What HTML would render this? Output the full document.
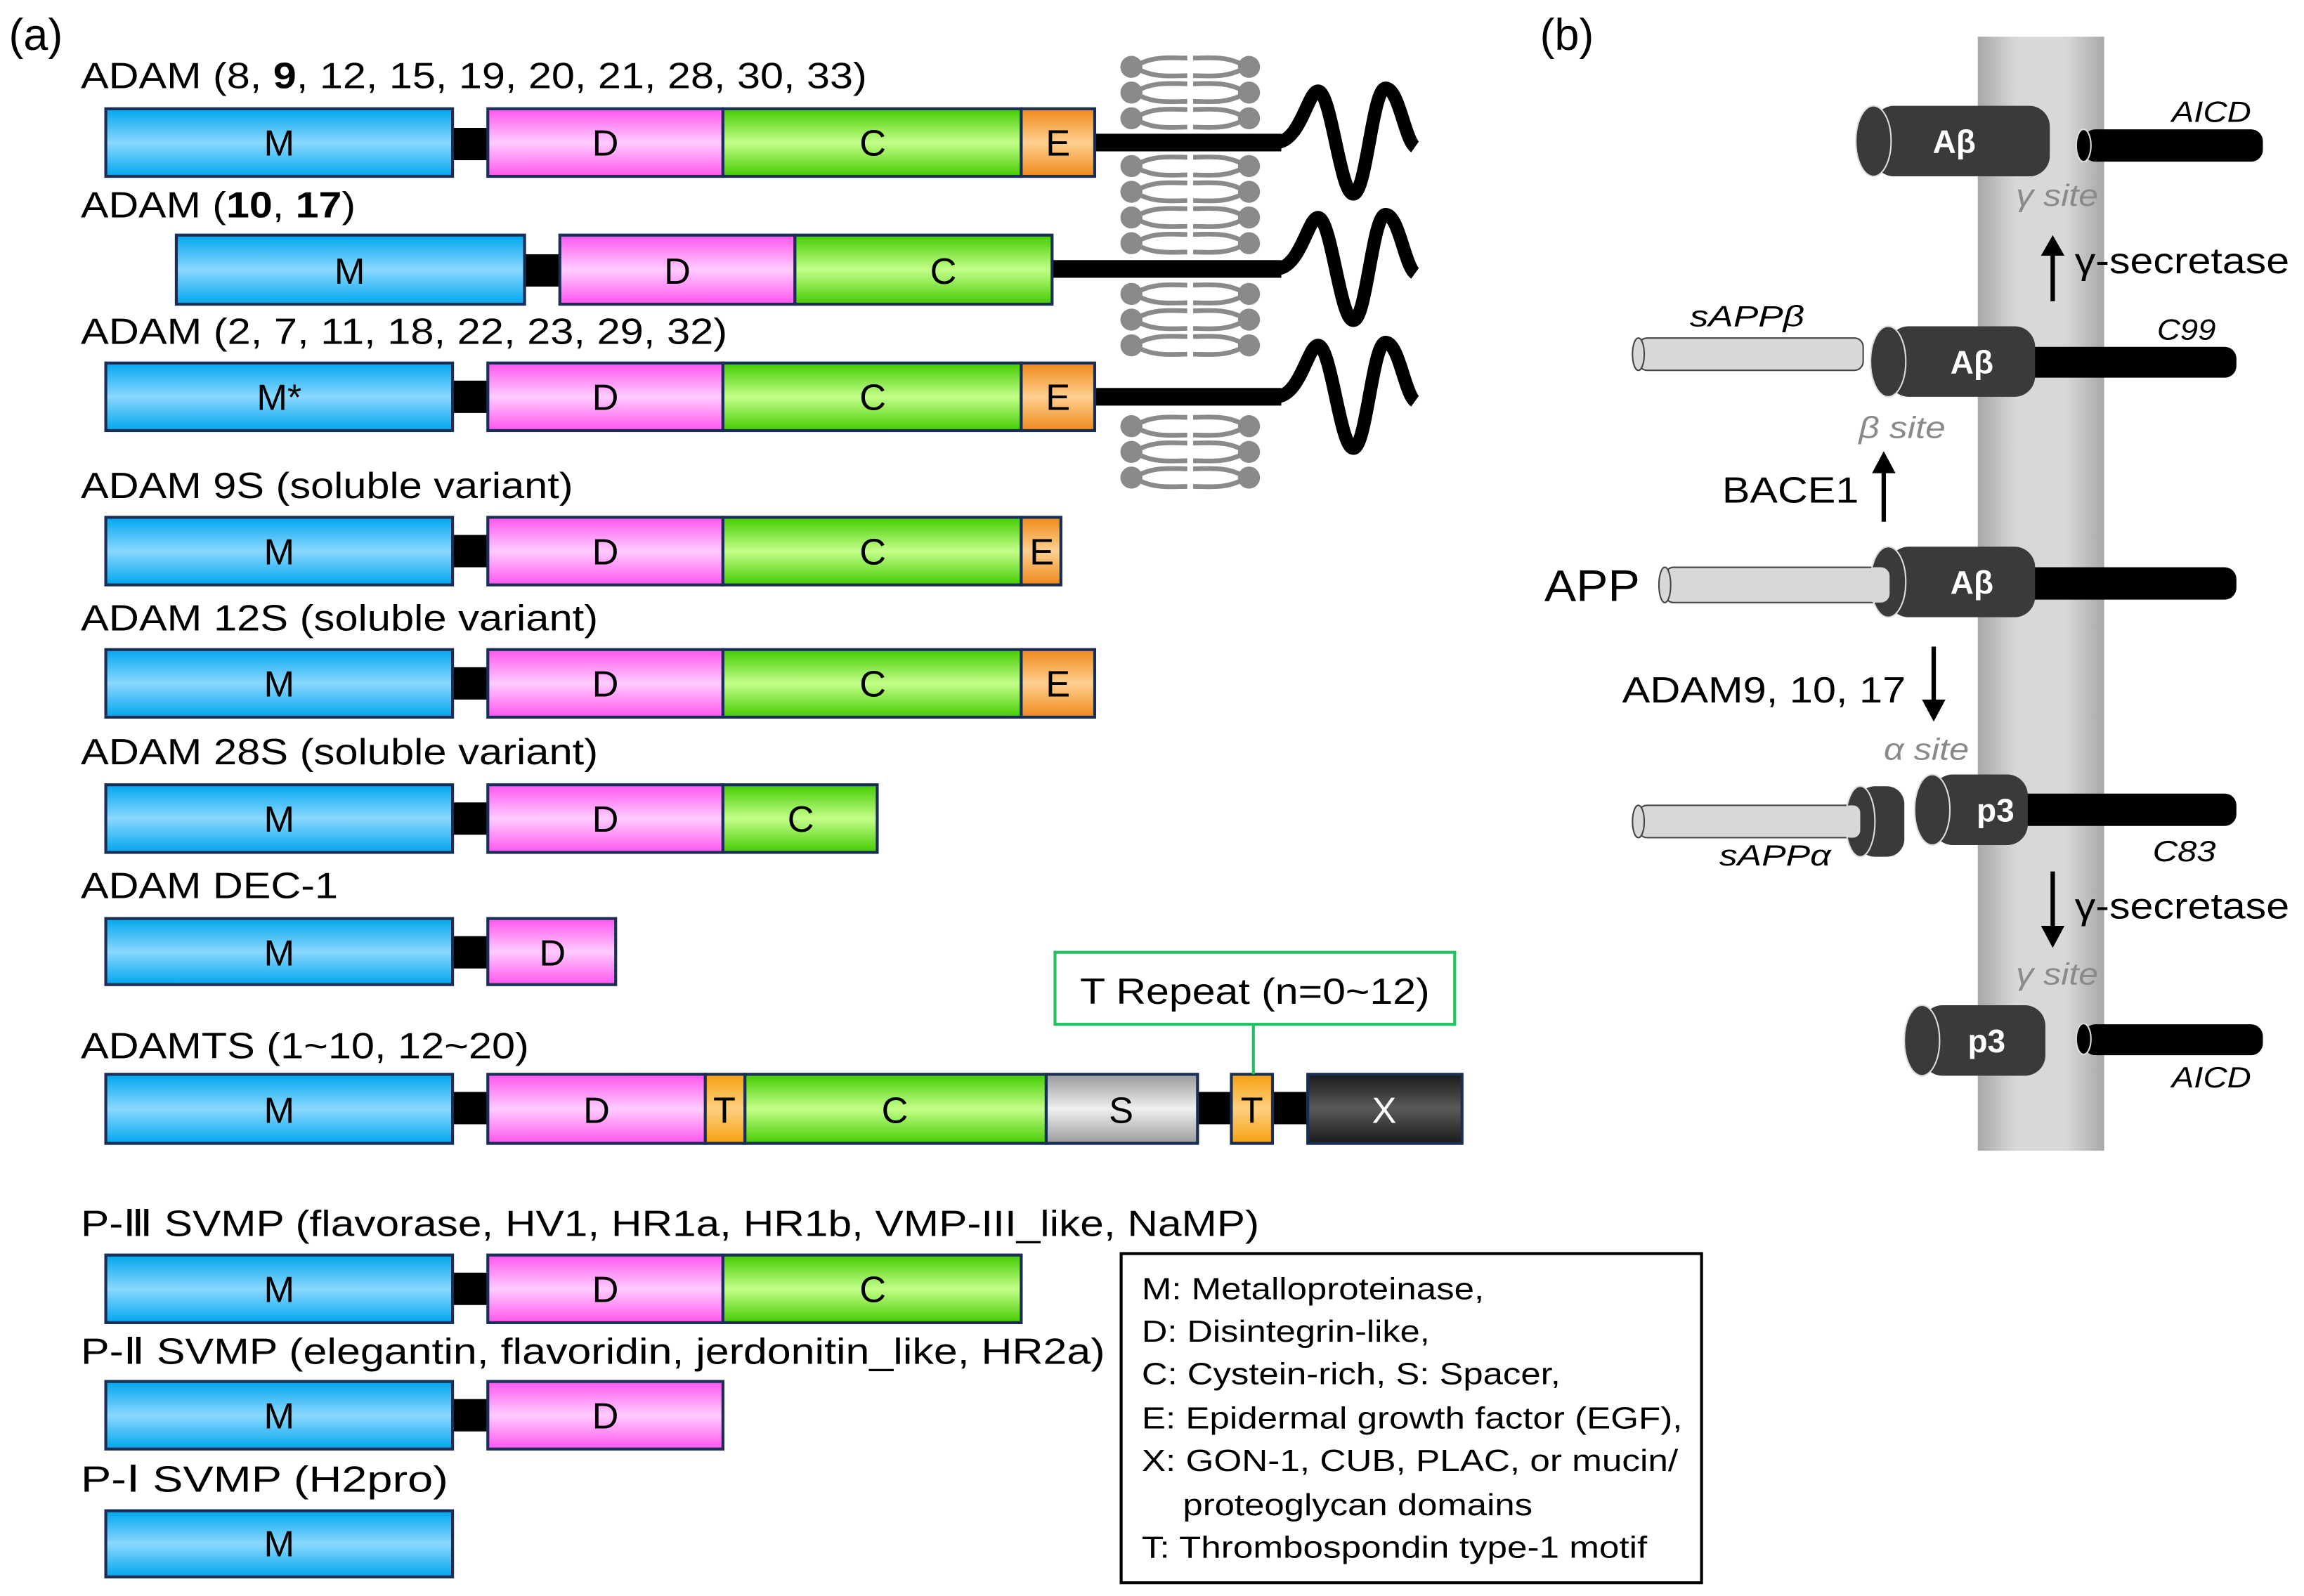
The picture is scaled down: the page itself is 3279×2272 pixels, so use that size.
<!DOCTYPE html>
<html><head><meta charset="utf-8"><style>
html,body{margin:0;padding:0;background:#fff;}
svg{display:block;}
text{font-family:"Liberation Sans",sans-serif;}
</style></head><body>
<svg width="3279" height="2272" viewBox="0 0 1568 1086" preserveAspectRatio="none" xmlns="http://www.w3.org/2000/svg">
<defs>
<linearGradient id="gM" x1="0" y1="0" x2="0" y2="1"><stop offset="0" stop-color="#00a6ee"/><stop offset="0.5" stop-color="#8ad8ff"/><stop offset="1" stop-color="#00a6ee"/></linearGradient>
<linearGradient id="gD" x1="0" y1="0" x2="0" y2="1"><stop offset="0" stop-color="#ff55ee"/><stop offset="0.5" stop-color="#ffccff"/><stop offset="1" stop-color="#ff55ee"/></linearGradient>
<linearGradient id="gC" x1="0" y1="0" x2="0" y2="1"><stop offset="0" stop-color="#44cc00"/><stop offset="0.5" stop-color="#c4ff8a"/><stop offset="1" stop-color="#44cc00"/></linearGradient>
<linearGradient id="gE" x1="0" y1="0" x2="0" y2="1"><stop offset="0" stop-color="#ee8a1a"/><stop offset="0.5" stop-color="#ffd090"/><stop offset="1" stop-color="#ee8a1a"/></linearGradient>
<linearGradient id="gT" x1="0" y1="0" x2="0" y2="1"><stop offset="0" stop-color="#f5a010"/><stop offset="0.5" stop-color="#ffd080"/><stop offset="1" stop-color="#f5a010"/></linearGradient>
<linearGradient id="gS" x1="0" y1="0" x2="0" y2="1"><stop offset="0" stop-color="#9a9a9a"/><stop offset="0.5" stop-color="#f0f0f0"/><stop offset="1" stop-color="#9a9a9a"/></linearGradient>
<linearGradient id="gX" x1="0" y1="0" x2="0" y2="1"><stop offset="0" stop-color="#1a1a1a"/><stop offset="0.5" stop-color="#5a5a5a"/><stop offset="1" stop-color="#1a1a1a"/></linearGradient>
<linearGradient id="gMem" x1="0" y1="0" x2="1" y2="0"><stop offset="0" stop-color="#a8a8a8"/><stop offset="0.3" stop-color="#d8d8d8"/><stop offset="0.7" stop-color="#d8d8d8"/><stop offset="1" stop-color="#a8a8a8"/></linearGradient>
<g id="lip">
<path d="M772 0 C784 -8 798 -6 808 -6 M772 0 C784 8 798 6 808 6 M848 0 C836 -8 822 -6 812 -6 M848 0 C836 8 822 6 812 6" stroke="#8a8a8a" stroke-width="3.2" fill="none"/>
<circle cx="770" cy="0" r="7.5" fill="#8a8a8a"/><circle cx="850" cy="0" r="7.5" fill="#8a8a8a"/>
</g>
</defs>
<rect width="1568" height="1086" fill="#fff"/>

<!-- lipid membrane -->
<g>
<use href="#lip" y="45.5"/><use href="#lip" y="63"/><use href="#lip" y="80.5"/>
<use href="#lip" y="113"/><use href="#lip" y="130.5"/><use href="#lip" y="148"/><use href="#lip" y="165.5"/>
<use href="#lip" y="200"/><use href="#lip" y="217.5"/><use href="#lip" y="235"/>
<use href="#lip" y="290"/><use href="#lip" y="307.5"/><use href="#lip" y="325"/>
</g>

<g font-size="25" fill="#000" lengthAdjust="spacingAndGlyphs">
<text x="6" y="34" font-size="30">(a)</text>
<text x="55" y="60" textLength="535" lengthAdjust="spacingAndGlyphs">ADAM (8, <tspan font-weight="bold">9</tspan>, 12, 15, 19, 20, 21, 28, 30, 33)</text>
<text x="55" y="148" textLength="187" lengthAdjust="spacingAndGlyphs">ADAM (<tspan font-weight="bold">10</tspan>, <tspan font-weight="bold">17</tspan>)</text>
<text x="55" y="234" textLength="440" lengthAdjust="spacingAndGlyphs">ADAM (2, 7, 11, 18, 22, 23, 29, 32)</text>
<text x="55" y="339" textLength="335" lengthAdjust="spacingAndGlyphs">ADAM 9S (soluble variant)</text>
<text x="55" y="429" textLength="352" lengthAdjust="spacingAndGlyphs">ADAM 12S (soluble variant)</text>
<text x="55" y="520" textLength="352" lengthAdjust="spacingAndGlyphs">ADAM 28S (soluble variant)</text>
<text x="55" y="611" textLength="175" lengthAdjust="spacingAndGlyphs">ADAM DEC-1</text>
<text x="55" y="720" textLength="305" lengthAdjust="spacingAndGlyphs">ADAMTS (1~10, 12~20)</text>
<text x="55" y="841" textLength="802" lengthAdjust="spacingAndGlyphs">P-Ⅲ SVMP (flavorase, HV1, HR1a, HR1b, VMP-III_like, NaMP)</text>
<text x="55" y="928" textLength="697" lengthAdjust="spacingAndGlyphs">P-Ⅱ SVMP (elegantin, flavoridin, jerdonitin_like, HR2a)</text>
<text x="55" y="1015" textLength="250" lengthAdjust="spacingAndGlyphs">P-Ⅰ SVMP (H2pro)</text>
</g>

<g stroke="#1a2e55" stroke-width="2">
<!-- row1 -->
<rect x="308" y="87" width="24" height="22" fill="#000" stroke="none"/>
<rect x="745" y="91" width="127" height="12" fill="#000" stroke="none"/>
<rect x="72" y="74" width="236" height="46" fill="url(#gM)"/>
<rect x="332" y="74" width="160" height="46" fill="url(#gD)"/>
<rect x="492" y="74" width="203" height="46" fill="url(#gC)"/>
<rect x="695" y="74" width="50" height="46" fill="url(#gE)"/>
<!-- row2 -->
<rect x="357" y="173" width="24" height="22" fill="#000" stroke="none"/>
<rect x="716" y="177" width="156" height="12" fill="#000" stroke="none"/>
<rect x="120" y="160" width="237" height="47" fill="url(#gM)"/>
<rect x="381" y="160" width="160" height="47" fill="url(#gD)"/>
<rect x="541" y="160" width="175" height="47" fill="url(#gC)"/>
<!-- row3 -->
<rect x="308" y="259" width="24" height="22" fill="#000" stroke="none"/>
<rect x="745" y="264" width="127" height="12" fill="#000" stroke="none"/>
<rect x="72" y="247" width="236" height="46" fill="url(#gM)"/>
<rect x="332" y="247" width="160" height="46" fill="url(#gD)"/>
<rect x="492" y="247" width="203" height="46" fill="url(#gC)"/>
<rect x="695" y="247" width="50" height="46" fill="url(#gE)"/>
<!-- 9S -->
<rect x="308" y="364" width="24" height="22" fill="#000" stroke="none"/>
<rect x="72" y="352" width="236" height="46" fill="url(#gM)"/>
<rect x="332" y="352" width="160" height="46" fill="url(#gD)"/>
<rect x="492" y="352" width="203" height="46" fill="url(#gC)"/>
<rect x="695" y="352" width="27" height="46" fill="url(#gE)"/>
<!-- 12S -->
<rect x="308" y="454" width="24" height="22" fill="#000" stroke="none"/>
<rect x="72" y="442" width="236" height="46" fill="url(#gM)"/>
<rect x="332" y="442" width="160" height="46" fill="url(#gD)"/>
<rect x="492" y="442" width="203" height="46" fill="url(#gC)"/>
<rect x="695" y="442" width="50" height="46" fill="url(#gE)"/>
<!-- 28S -->
<rect x="308" y="546" width="24" height="22" fill="#000" stroke="none"/>
<rect x="72" y="534" width="236" height="46" fill="url(#gM)"/>
<rect x="332" y="534" width="160" height="46" fill="url(#gD)"/>
<rect x="492" y="534" width="105" height="46" fill="url(#gC)"/>
<!-- DEC-1 -->
<rect x="308" y="637" width="24" height="22" fill="#000" stroke="none"/>
<rect x="72" y="625" width="236" height="45" fill="url(#gM)"/>
<rect x="332" y="625" width="87" height="45" fill="url(#gD)"/>
<!-- ADAMTS -->
<rect x="308" y="743" width="24" height="22" fill="#000" stroke="none"/>
<rect x="815" y="743" width="75" height="22" fill="#000" stroke="none"/>
<rect x="72" y="731" width="236" height="47" fill="url(#gM)"/>
<rect x="332" y="731" width="148" height="47" fill="url(#gD)"/>
<rect x="480" y="731" width="27" height="47" fill="url(#gT)"/>
<rect x="507" y="731" width="205" height="47" fill="url(#gC)"/>
<rect x="712" y="731" width="103" height="47" fill="url(#gS)"/>
<rect x="838" y="731" width="28" height="47" fill="url(#gT)"/>
<rect x="890" y="731" width="105" height="47" fill="url(#gX)"/>
<!-- P-III -->
<rect x="308" y="866" width="24" height="22" fill="#000" stroke="none"/>
<rect x="72" y="854" width="236" height="46" fill="url(#gM)"/>
<rect x="332" y="854" width="160" height="46" fill="url(#gD)"/>
<rect x="492" y="854" width="203" height="46" fill="url(#gC)"/>
<!-- P-II -->
<rect x="308" y="952" width="24" height="22" fill="#000" stroke="none"/>
<rect x="72" y="940" width="236" height="46" fill="url(#gM)"/>
<rect x="332" y="940" width="160" height="46" fill="url(#gD)"/>
<!-- P-I -->
<rect x="72" y="1028" width="236" height="45" fill="url(#gM)"/>
</g>

<!-- waves -->
<g fill="none" stroke="#000" stroke-width="9" stroke-linejoin="round">
<path d="M868 97 C885 97 890 62 897 62 C906 62 912 132 921 132 C930 132 934 60 943 60 C952 60 956 95 963 100"/>
<path d="M868 183 C885 183 890 148 897 148 C906 148 912 218 921 218 C930 218 934 146 943 146 C952 146 956 181 963 186"/>
<path d="M868 270 C885 270 890 235 897 235 C906 235 912 305 921 305 C930 305 934 233 943 233 C952 233 956 268 963 273"/>
</g>

<g font-size="25" text-anchor="middle" fill="#000">
<text x="190" y="106">M</text><text x="412" y="106">D</text><text x="594" y="106">C</text><text x="720" y="106">E</text>
<text x="238" y="193">M</text><text x="461" y="193">D</text><text x="642" y="193">C</text>
<text x="190" y="279">M*</text><text x="412" y="279">D</text><text x="594" y="279">C</text><text x="720" y="279">E</text>
<text x="190" y="384">M</text><text x="412" y="384">D</text><text x="594" y="384">C</text><text x="709" y="384">E</text>
<text x="190" y="474">M</text><text x="412" y="474">D</text><text x="594" y="474">C</text><text x="720" y="474">E</text>
<text x="190" y="566">M</text><text x="412" y="566">D</text><text x="545" y="566">C</text>
<text x="190" y="657">M</text><text x="376" y="657">D</text>
<text x="190" y="764">M</text><text x="406" y="764">D</text><text x="493" y="764">T</text><text x="609" y="764">C</text><text x="763" y="764">S</text><text x="852" y="764">T</text><text x="942" y="764" fill="#fff">X</text>
<text x="190" y="886">M</text><text x="412" y="886">D</text><text x="594" y="886">C</text>
<text x="190" y="972">M</text><text x="412" y="972">D</text>
<text x="190" y="1059">M</text>
</g>

<!-- T repeat box -->
<rect x="718" y="648" width="272" height="49" fill="#fff" stroke="#22c060" stroke-width="2"/>
<line x1="853" y1="697" x2="853" y2="731" stroke="#22c060" stroke-width="2"/>
<text x="735" y="683" font-size="25" textLength="238" lengthAdjust="spacingAndGlyphs">T Repeat (n=0~12)</text>

<!-- legend -->
<rect x="763" y="853" width="395" height="224" fill="#fff" stroke="#000" stroke-width="2"/>
<g font-size="21">
<text x="777" y="884" textLength="233" lengthAdjust="spacingAndGlyphs">M: Metalloproteinase,</text>
<text x="777" y="913" textLength="196" lengthAdjust="spacingAndGlyphs">D: Disintegrin-like,</text>
<text x="777" y="942" textLength="285" lengthAdjust="spacingAndGlyphs">C: Cystein-rich, S: Spacer,</text>
<text x="777" y="972" textLength="368" lengthAdjust="spacingAndGlyphs">E: Epidermal growth factor (EGF),</text>
<text x="777" y="1001" textLength="365" lengthAdjust="spacingAndGlyphs">X: GON-1, CUB, PLAC, or mucin/</text>
<text x="805" y="1031" textLength="238" lengthAdjust="spacingAndGlyphs">proteoglycan domains</text>
<text x="777" y="1060" textLength="344" lengthAdjust="spacingAndGlyphs">T: Thrombospondin type-1 motif</text>
</g>

<!-- panel b -->
<text x="1048" y="34" font-size="30">(b)</text>
<rect x="1346" y="25" width="86" height="758" fill="url(#gMem)"/>

<!-- Top Abeta + AICD -->
<rect x="1275" y="72" width="120" height="48" rx="14" fill="#3a3a3a"/>
<ellipse cx="1275" cy="96" rx="12" ry="24" fill="#3a3a3a" stroke="#ddd" stroke-width="1"/>
<rect x="1418" y="88" width="122" height="22" rx="8" fill="#000"/>
<ellipse cx="1418" cy="99" rx="5" ry="11" fill="#000" stroke="#ddd" stroke-width="1"/>

<!-- C99 row -->
<rect x="1115" y="230" width="153" height="22" rx="6" fill="#d8d8d8" stroke="#444" stroke-width="1"/>
<ellipse cx="1115" cy="241" rx="4" ry="11" fill="#d8d8d8" stroke="#444" stroke-width="1"/>
<rect x="1370" y="236" width="152" height="21" rx="8" fill="#000"/>
<rect x="1285" y="222" width="100" height="48" rx="14" fill="#3a3a3a"/>
<ellipse cx="1285" cy="246" rx="12" ry="24" fill="#3a3a3a" stroke="#ddd" stroke-width="1"/>

<!-- APP row -->
<rect x="1133" y="386" width="157" height="24" rx="6" fill="#d8d8d8" stroke="#444" stroke-width="1"/>
<ellipse cx="1133" cy="398" rx="4" ry="12" fill="#d8d8d8" stroke="#444" stroke-width="1"/>
<rect x="1370" y="386" width="152" height="22" rx="8" fill="#000"/>
<rect x="1285" y="372" width="100" height="48" rx="14" fill="#3a3a3a"/>
<ellipse cx="1285" cy="396" rx="12" ry="24" fill="#3a3a3a" stroke="#ddd" stroke-width="1"/>
<rect x="1270" y="386" width="16" height="24" rx="6" fill="#d8d8d8"/>

<!-- C83 row -->
<rect x="1115" y="548" width="148" height="22" rx="6" fill="#d8d8d8" stroke="#444" stroke-width="1"/>
<ellipse cx="1115" cy="559" rx="4" ry="11" fill="#d8d8d8" stroke="#444" stroke-width="1"/>
<rect x="1264" y="535" width="32" height="48" rx="12" fill="#3a3a3a"/>
<ellipse cx="1266" cy="559" rx="10" ry="24" fill="#3a3a3a" stroke="#ddd" stroke-width="1"/>
<rect x="1254" y="548" width="12" height="22" rx="5" fill="#d8d8d8"/>
<rect x="1370" y="540" width="152" height="22" rx="8" fill="#000"/>
<rect x="1315" y="527" width="65" height="48" rx="14" fill="#3a3a3a"/>
<ellipse cx="1315" cy="551" rx="12" ry="24" fill="#3a3a3a" stroke="#ddd" stroke-width="1"/>

<!-- bottom p3 + AICD -->
<rect x="1308" y="684" width="84" height="48" rx="14" fill="#3a3a3a"/>
<ellipse cx="1308" cy="708" rx="12" ry="24" fill="#3a3a3a" stroke="#ddd" stroke-width="1"/>
<rect x="1418" y="697" width="122" height="21" rx="8" fill="#000"/>
<ellipse cx="1418" cy="707" rx="5" ry="10.5" fill="#000" stroke="#ddd" stroke-width="1"/>

<g font-size="22" font-weight="bold" fill="#fff" text-anchor="middle">
<text x="1330" y="104">Aβ</text><text x="1342" y="254">Aβ</text><text x="1342" y="404">Aβ</text>
<text x="1358" y="559">p3</text><text x="1352" y="716">p3</text>
</g>

<!-- arrows -->
<g stroke="#000" stroke-width="3" fill="#000">
<line x1="1397" y1="205" x2="1397" y2="172"/><polygon points="1389,174 1405,174 1397,160" stroke="none"/>
<line x1="1282" y1="355" x2="1282" y2="320"/><polygon points="1274,322 1290,322 1282,307" stroke="none"/>
<line x1="1316" y1="440" x2="1316" y2="478"/><polygon points="1308,476 1324,476 1316,491" stroke="none"/>
<line x1="1397" y1="593" x2="1397" y2="632"/><polygon points="1389,630 1405,630 1397,645" stroke="none"/>
</g>

<g font-style="italic" font-size="20">
<text x="1478" y="83" textLength="54" lengthAdjust="spacingAndGlyphs">AICD</text>
<text x="1468" y="231" textLength="40" lengthAdjust="spacingAndGlyphs">C99</text>
<text x="1150" y="222" textLength="78" lengthAdjust="spacingAndGlyphs">sAPPβ</text>
<text x="1465" y="586" textLength="43" lengthAdjust="spacingAndGlyphs">C83</text>
<text x="1170" y="589" textLength="76" lengthAdjust="spacingAndGlyphs">sAPPα</text>
<text x="1478" y="740" textLength="54" lengthAdjust="spacingAndGlyphs">AICD</text>
</g>
<g font-style="italic" font-size="21" fill="#8a8a8a">
<text x="1372" y="140" textLength="56" lengthAdjust="spacingAndGlyphs">γ site</text>
<text x="1265" y="298" textLength="59" lengthAdjust="spacingAndGlyphs">β site</text>
<text x="1282" y="517" textLength="58" lengthAdjust="spacingAndGlyphs">α site</text>
<text x="1372" y="670" textLength="56" lengthAdjust="spacingAndGlyphs">γ site</text>
</g>
<g font-size="25">
<text x="1412" y="186" textLength="146" lengthAdjust="spacingAndGlyphs">γ-secretase</text>
<text x="1172" y="342" textLength="93" lengthAdjust="spacingAndGlyphs">BACE1</text>
<text x="1104" y="478" textLength="193" lengthAdjust="spacingAndGlyphs">ADAM9, 10, 17</text>
<text x="1412" y="625" textLength="146" lengthAdjust="spacingAndGlyphs">γ-secretase</text>
<text x="1051" y="409" font-size="30" textLength="65" lengthAdjust="spacingAndGlyphs">APP</text>
</g>
</svg>
</body></html>
